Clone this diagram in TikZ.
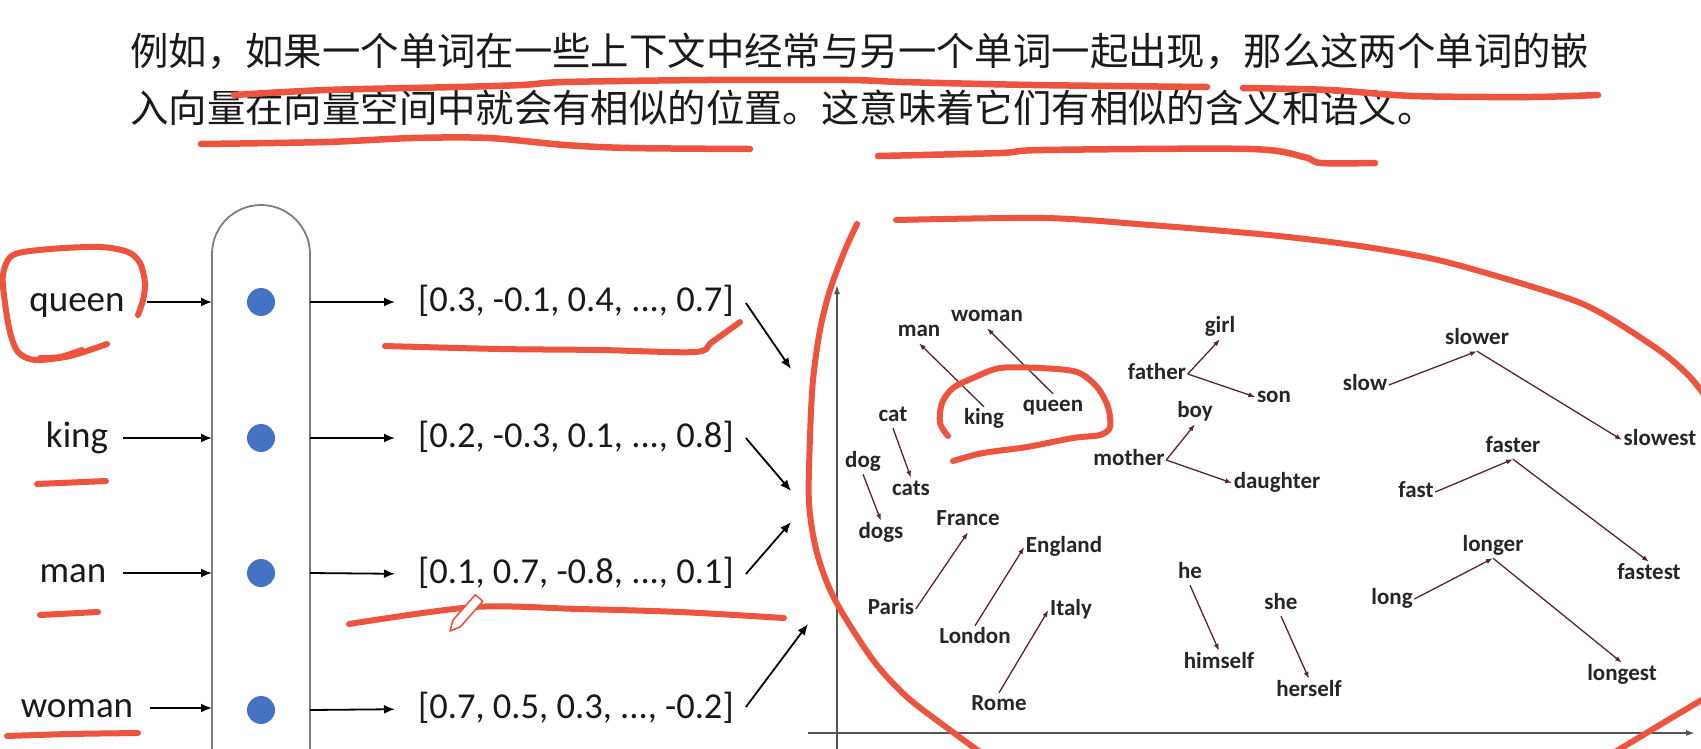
\documentclass[tikz,border=0pt]{standalone}
\usepackage{fontspec}
\setmainfont{Carlito}
\newfontfamily\cjk{Noto Sans CJK SC}
\usetikzlibrary{arrows.meta}
\definecolor{redpen}{RGB}{236,84,64}
\definecolor{dotblue}{RGB}{68,114,196}
\definecolor{plotarrow}{RGB}{88,36,52}
\definecolor{colgray}{RGB}{125,125,125}
\definecolor{axgray}{RGB}{85,85,85}
\definecolor{headtext}{RGB}{26,26,26}
\begin{document}
\begin{tikzpicture}[x=1pt,y=-1pt,
  word/.style={font=\fontsize{37}{44}\selectfont, text height=25pt, text depth=7pt, inner sep=0pt, text=black!90},
  vec/.style={font=\fontsize{36.5}{44}\selectfont, text height=25pt, text depth=7pt, inner sep=0pt, anchor=west, text=black!90},
  lbl/.style={font=\bfseries\fontsize{23}{28}\selectfont, text height=16pt, text depth=5pt, inner sep=1.5pt, text=black!85},
  head/.style={font=\cjk\fontsize{38.4}{40}\selectfont, inner sep=0pt, anchor=base west, text=headtext},
  dot/.style={circle, fill=dotblue, minimum size=28pt, inner sep=0pt},
  barr/.style={black, line width=1.8pt, -{Latex[length=11pt,width=9pt]}},
  parr/.style={plotarrow, line width=1.3pt, -{Latex[length=7pt,width=5pt]}},
  axisline/.style={axgray, line width=1.6pt, -{Latex[length=9pt,width=6pt]}},
  pen/.style={redpen, line width=6pt, line cap=round, line join=round},
]
\useasboundingbox (0,0) rectangle (1701,748);
\fill[white] (0,0) rectangle (1701,748);

% ---------- header ----------
\node[head] (h1) at (130,65) {例如，如果一个单词在一些上下文中经常与另一个单词一起出现，那么这两个单词的嵌};
\node[head] (h2) at (130,122) {入向量在向量空间中就会有相似的位置。这意味着它们有相似的含义和语义。};

% ---------- left: words, column, vectors ----------
\draw[colgray, line width=1.8pt] (212,760) -- (212,254) arc[start angle=180, end angle=0, radius=49pt] -- (310,760);
\coordinate (cl) at (212,0);
\coordinate (cr) at (310,0);

\node[word] (queen) at (77,302) {queen};
\node[word] (king) at (77,438) {king};
\node[word] (man) at (73,573) {man};
\node[word] (woman) at (77,708) {woman};

\node[dot] (d1) at (261,302) {};
\node[dot] (d2) at (261,438) {};
\node[dot] (d3) at (261,573) {};
\node[dot] (d4) at (261,710) {};

\draw[barr, shorten <=22pt] (queen.east) -- (queen.east -| cl);
\draw[barr, shorten <=15pt] (king.east) -- (king.east -| cl);
\draw[barr, shorten <=16pt] (man.east) -- (man.east -| cl);
\draw[barr, shorten <=17pt] (woman.east) -- (woman.east -| cl);

\node[vec] (v1) at (418,302) {[0.3, -0.1, 0.4, ..., 0.7]};
\node[vec] (v2) at (418,438) {[0.2, -0.3, 0.1, ..., 0.8]};
\node[vec] (v3) at (418,574) {[0.1, 0.7, -0.8, ..., 0.1]};
\node[vec] (v4) at (418,709) {[0.7, 0.5, 0.3, ..., -0.2]};

\draw[barr, shorten >=23pt] (d1 -| cr) -- (v1.west);
\draw[barr, shorten >=23pt] (d2 -| cr) -- (v2.west);
\draw[barr, shorten >=23pt] (d3 -| cr) -- (v3.west);
\draw[barr, shorten >=23pt] (d4 -| cr) -- (v4.west);

\coordinate (t1) at (791,369);
\coordinate (t2) at (791,491);
\coordinate (t3) at (791,522);
\coordinate (t4) at (808,624);
\draw[barr] ([shift={(12,1)}]v1.east) -- (t1);
\draw[barr] ([shift={(12,0)}]v2.east) -- (t2);
\draw[barr] ([shift={(12,0)}]v3.east) -- (t3);
\draw[barr] ([shift={(12,-2)}]v4.east) -- (t4);

% ---------- plot ----------
\coordinate (xs) at (808,733);
\coordinate (xe) at (1695,733);
\coordinate (ys) at (837,752);
\coordinate (ye) at (837,285);
\draw[axisline] (xs) -- (xe);
\draw[axisline] (ys) -- (ye);

\node[lbl] (pman) at (919,331) {man};
\node[lbl] (pwoman) at (987,316) {woman};
\node[lbl] (pking) at (984,419) {king};
\node[lbl] (pqueen) at (1053,406) {queen};
\node[lbl] (cat) at (893,416) {cat};
\node[lbl] (dog) at (863,462) {dog};
\node[lbl] (cats) at (911,490) {cats};
\node[lbl] (dogs) at (881,533) {dogs};
\node[lbl] (france) at (968,520) {France};
\node[lbl] (england) at (1064,547) {England};
\node[lbl] (paris) at (891,609) {Paris};
\node[lbl] (london) at (975,638) {London};
\node[lbl] (italy) at (1071,610) {Italy};
\node[lbl] (rome) at (999,705) {Rome};
\node[lbl] (father) at (1157,374) {father};
\node[lbl] (girl) at (1220,327) {girl};
\node[lbl] (son) at (1274,397) {son};
\node[lbl] (boy) at (1195,412) {boy};
\node[lbl] (mother) at (1129,460) {mother};
\node[lbl] (daughter) at (1277,483) {daughter};
\node[lbl] (slow) at (1365,385) {slow};
\node[lbl] (slower) at (1477,339) {slower};
\node[lbl] (slowest) at (1660,440) {slowest};
\node[lbl] (fast) at (1416,492) {fast};
\node[lbl] (faster) at (1513,447) {faster};
\node[lbl] (fastest) at (1649,574) {fastest};
\node[lbl] (long) at (1392,599) {long};
\node[lbl] (longer) at (1493,546) {longer};
\node[lbl] (longest) at (1622,675) {longest};
\node[lbl] (he) at (1190,573) {he};
\node[lbl] (himself) at (1219,663) {himself};
\node[lbl] (she) at (1281,604) {she};
\node[lbl] (herself) at (1309,691) {herself};

\draw[parr] (pking.north) -- (pman.south);
\draw[parr] (pqueen.north) -- (pwoman.south);
\draw[parr] (cat.south) -- (cats.north);
\draw[parr] (dog.south) -- (dogs.north);
\draw[parr] (paris.east) -- (france.south);
\draw[parr] (london.north) -- (england.west);
\draw[parr] (rome.north) -- (italy.west);
\draw[parr] (father.east) -- (girl.south);
\draw[parr] (father.east) -- (son.west);
\draw[parr] (mother.east) -- (boy.south);
\draw[parr] (mother.east) -- (daughter.west);
\draw[parr] (slow.east) -- (slower.south);
\draw[parr] (slower.south) -- (slowest.west);
\draw[parr] (fast.east) -- (faster.south);
\draw[parr] (faster.south) -- (fastest.north);
\draw[parr] (long.east) -- (longer.south);
\draw[parr] (longer.south) -- (longest.north);
\draw[parr] (he.south) -- (himself.north);
\draw[parr] (she.south) -- (herself.north);

% ---------- red pen annotations ----------
\draw[pen, line width=6.5pt] plot[smooth, tension=0.5] coordinates {(234,95) (326,90) (457,87) (522,85) (565,82) (707,80) (848,80) (902,82) (1033,85) (1207,87)};
\draw[pen, line width=6.5pt] plot[smooth, tension=0.5] coordinates {(1243,88) (1330,90) (1413,96) (1530,97) (1598,95)};
\draw[pen, line width=6.5pt] plot[smooth, tension=0.5] coordinates {(201,144) (326,142) (413,138) (489,138) (565,145) (630,148) (750,149)};
\draw[pen, line width=6.5pt] plot[smooth, tension=0.5] coordinates {(878,156) (1000,153) (1043,150) (1250,149) (1304,157) (1321,163) (1375,163)};

\draw[pen] plot[smooth, tension=0.5] coordinates {(138,315) (143,300) (145,283) (140,263) (128,252) (100,247) (50,249) (13,255) (3,275) (5,303) (10,332) (18,352) (35,360) (70,356) (107,344)};
\draw[pen] plot[smooth, tension=0.5] coordinates {(82,350) (60,357) (40,358)};
\draw[pen] (37,484) -- (106,481);
\draw[pen] (40,615) -- (98,612);
\draw[pen] plot[smooth, tension=0.5] coordinates {(7,736) (70,734) (138,733)};

\draw[pen] plot[smooth, tension=0.5] coordinates {(385,346) (500,349) (600,350) (695,352) (712,342) (740,322)};
\draw[pen] plot[smooth, tension=0.5] coordinates {(349,624) (474,607) (579,609) (680,612) (784,618)};
\draw[redpen, fill=white, line width=1.6pt, line join=round] (450,631) -- (460.4,626.8) -- (482.8,601.3) -- (475.3,594.7) -- (452.9,620.2) -- cycle;

\draw[pen] plot[smooth, tension=0.5] coordinates {(948,436) (940,423) (942,403) (953,388) (973,378) (1000,368) (1040,368) (1077,372) (1097,387) (1108,407) (1110,427) (1100,435) (1073,438) (1027,447) (983,453) (953,461)};

\draw[pen] plot[smooth, tension=0.5] coordinates {(857,224) (845,250) (830,290) (820,330) (813,380) (810,437) (809,503) (817,553) (835,600) (873,660) (907,697) (950,730) (980,752)};
\draw[pen] plot[smooth, tension=0.5] coordinates {(896,220) (1045,218) (1150,225) (1269,235) (1360,246) (1438,260) (1520,283) (1578,302) (1613,320) (1663,353) (1690,377) (1705,396)};
\draw[pen] plot[smooth, tension=0.5] coordinates {(1615,752) (1663,723) (1705,698)};
\end{tikzpicture}
\end{document}
